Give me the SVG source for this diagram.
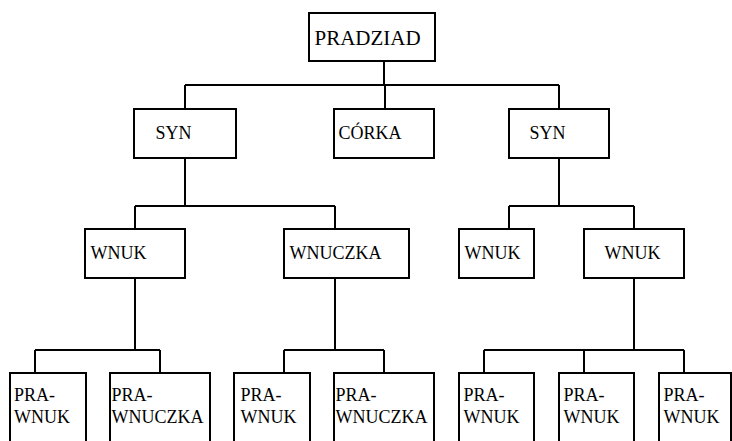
<svg xmlns="http://www.w3.org/2000/svg" width="732" height="441" viewBox="0 0 732 441">
<style>
.box{fill:#fff;stroke:#000;stroke-width:2}
.c{fill:none;stroke:#000;stroke-width:2}
.t{font-family:'Liberation Serif',Tinos,'Times New Roman',serif;font-size:18px;fill:#000}
.big{font-size:21px}
</style>
<rect width="732" height="441" fill="#fff"/>
<g id="connectors" class="c">
<path d="M384,61V85M185,85H559M185,85V109M385,85V109M559,85V109"/>
<path d="M185,158V206M135,206H335M135,206V229M335,206V229"/>
<path d="M559,158V206M509,206H634M509,206V229M634,206V229"/>
<path d="M135,278V350M35,350H160M35,350V373M160,350V373"/>
<path d="M335,278V350M284,350H384M284,350V373M384,350V373"/>
<path d="M634,278V350M484,350H684M484,350V373M584,350V373M684,350V373"/>
</g>
<g class="t" font-family="Liberation Serif, serif">
<g id="pradziad"><rect class="box" x="309" y="13" width="126" height="48"/><text class="big" x="314.5" y="45">PRADZIAD</text></g>
<g id="syn1"><rect class="box" x="134" y="109" width="102" height="49"/><text x="155.5" y="139">SYN</text></g>
<g id="corka"><rect class="box" x="334" y="109" width="100" height="49"/><text x="338.5" y="139">CÓRKA</text></g>
<g id="syn2"><rect class="box" x="509" y="109" width="100" height="49"/><text x="529.5" y="139">SYN</text></g>
<g id="wnuk1"><rect class="box" x="85" y="229" width="100" height="49"/><text x="90.5" y="259">WNUK</text></g>
<g id="wnuczka1"><rect class="box" x="284" y="229" width="125" height="49"/><text x="289.5" y="259">WNUCZKA</text></g>
<g id="wnuk2"><rect class="box" x="459" y="229" width="75" height="49"/><text x="464.5" y="259">WNUK</text></g>
<g id="wnuk3"><rect class="box" x="584" y="229" width="100" height="49"/><text x="604.5" y="259">WNUK</text></g>
<g id="prawnuk1"><rect class="box" x="10" y="373" width="76" height="90"/><text x="14" y="401">PRA-</text><text x="14" y="423">WNUK</text></g>
<g id="prawnuczka1"><rect class="box" x="110" y="373" width="100" height="90"/><text x="111.5" y="401">PRA-</text><text x="111.5" y="423">WNUCZKA</text></g>
<g id="prawnuk2"><rect class="box" x="234" y="373" width="76" height="90"/><text x="240.5" y="401">PRA-</text><text x="240.5" y="423">WNUK</text></g>
<g id="prawnuczka2"><rect class="box" x="334" y="373" width="100" height="90"/><text x="335.5" y="401">PRA-</text><text x="335.5" y="423">WNUCZKA</text></g>
<g id="prawnuk3"><rect class="box" x="459" y="373" width="75" height="90"/><text x="463.5" y="401">PRA-</text><text x="463.5" y="423">WNUK</text></g>
<g id="prawnuk4"><rect class="box" x="559" y="373" width="75" height="90"/><text x="563.5" y="401">PRA-</text><text x="563.5" y="423">WNUK</text></g>
<g id="prawnuk5"><rect class="box" x="659" y="373" width="72" height="90"/><text x="663.5" y="401">PRA-</text><text x="663.5" y="423">WNUK</text></g>
</g>
</svg>
